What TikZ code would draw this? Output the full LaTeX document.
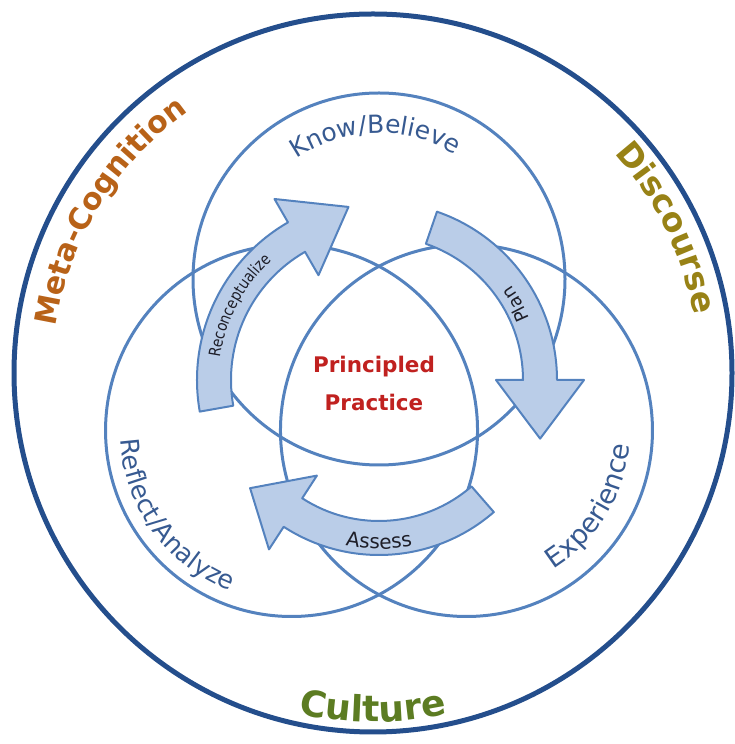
\documentclass[tikz,border=0pt]{standalone}
\usepackage{fontspec}
\usetikzlibrary{calc,decorations.text}
\newfontfamily\lblfont{DejaVu Sans}
\newfontfamily\condfont{DejaVu Sans}[FakeStretch=0.85]
\definecolor{circblue}{RGB}{84,130,190}
\definecolor{outerblue}{RGB}{36,78,140}
\definecolor{arrowfill}{RGB}{186,205,232}
\definecolor{lblc}{RGB}{55,90,145}
\definecolor{metac}{RGB}{184,98,24}
\definecolor{discc}{RGB}{152,130,22}
\definecolor{cultc}{RGB}{92,124,34}
\definecolor{ppred}{RGB}{192,33,31}
\definecolor{arrtxt}{RGB}{30,30,40}
\tikzset{
  outerline/.style={draw=outerblue, line width=5pt},
  circline/.style={draw=circblue, line width=3pt},
  arrowsty/.style={draw=circblue, fill=arrowfill, line width=2pt, line join=round},
  pptext/.style={font=\lblfont\bfseries\fontsize{21.5}{26}\selectfont, text=ppred, anchor=base, inner sep=0pt}
}
% R, tail angle, head base angle, tip angle
\newcommand\bigarrow[4]{%
  \draw[arrowsty] ($(C)+(#2:{#1+17})$) arc[start angle=#2,end angle=#3,radius={#1+17}]
    -- ($(C)+(#3:{#1+44})$) -- ($(C)+(#4:{#1*1.065})$) -- ($(C)+(#3:{#1-44})$)
    -- ($(C)+(#3:{#1-17})$) arc[start angle=#3,end angle=#2,radius={#1-17}] -- cycle;}
% center, radius, start, end, format, text
\newcommand\arctext[6]{%
  \path[decorate,decoration={text along path,text align=center,text={|#5|#6}}]
    ($(#1)+(#3:#2)$) arc[start angle=#3,end angle=#4,radius=#2];}
\begin{document}
\begin{tikzpicture}[x=1pt,y=1pt]
\useasboundingbox (0,0) rectangle (734,744);
\coordinate (O) at (373,371);
\coordinate (C) at (379,364);
\coordinate (T) at ($(C)+(90:101)$);
\coordinate (L) at ($(C)+(210:101)$);
\coordinate (Rc) at ($(C)+(330:101)$);
\draw[outerline] (O) circle[radius=359];
\draw[circline] (T) circle[radius=186];
\draw[circline] (L) circle[radius=186];
\draw[circline] (Rc) circle[radius=186];
\bigarrow{165}{190}{120}{100}
\bigarrow{161}{71}{0}{-20}
\bigarrow{158}{-49}{-123}{-140}
\arctext{O}{320}{188.5}{108.5}{\lblfont\bfseries\fontsize{30}{36}\selectfont\color{metac}}{Meta-Cognition}
\arctext{O}{326}{66.3}{-13.7}{\lblfont\bfseries\fontsize{33}{38}\selectfont\color{discc}}{Discourse}
\arctext{O}{349}{240}{300}{\lblfont\bfseries\fontsize{36}{40}\selectfont\color{cultc}}{Culture}
\arctext{T}{146}{131.5}{51.5}{\lblfont\fontsize{25}{30}\selectfont\color{lblc}}{Know/Believe}
\arctext{L}{171.5}{176}{256}{\lblfont\fontsize{25.5}{30}\selectfont\color{lblc}}{Reflect/Analyze}
\arctext{Rc}{163.5}{-71.5}{8.5}{\lblfont\fontsize{27}{30}\selectfont\color{lblc}}{Experience}
\arctext{C}{160.5}{192}{112}{\condfont\fontsize{16}{19}\selectfont\color{arrtxt}}{Reconceptualize}
\arctext{C}{162.5}{8.8}{48.8}{\lblfont\fontsize{18}{21}\selectfont\color{arrtxt}}{Plan}
\arctext{C}{169}{-110}{-70}{\lblfont\fontsize{20}{24}\selectfont\color{arrtxt}}{Assess}
\node[pptext] (pp1) at (374,371) {Principled};
\node[pptext] (pp2) at (374,333) {Practice};
\end{tikzpicture}
\end{document}
